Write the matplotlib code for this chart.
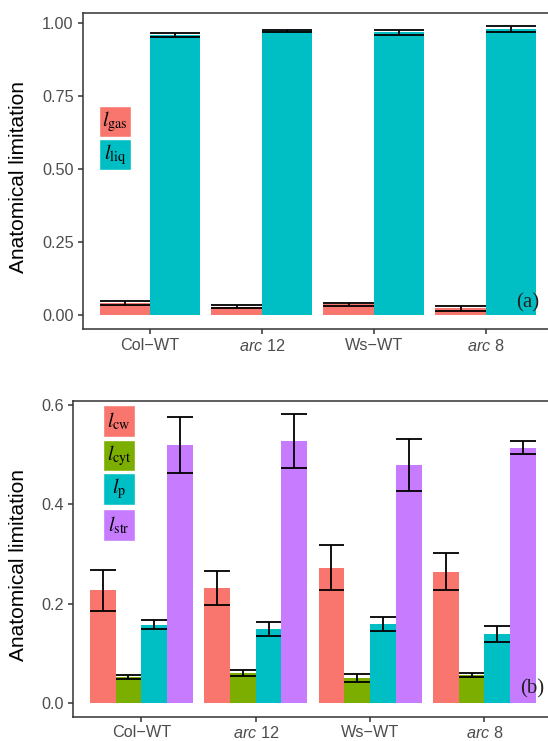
"""
Anatomical limitation of CO2 diffusion: gas vs liquid phase (a),
and the partitioning of the liquid phase (b).
"""

import numpy as np
import matplotlib
matplotlib.use("Agg")
import matplotlib.pyplot as plt
from matplotlib.patches import Rectangle

plt.rcParams['font.family'] = ['Liberation Sans', 'DejaVu Sans']
plt.rcParams['mathtext.fontset'] = 'custom'
plt.rcParams['mathtext.rm'] = 'Liberation Sans'
plt.rcParams['mathtext.it'] = 'Liberation Sans:italic'
plt.rcParams['mathtext.bf'] = 'Liberation Sans:bold'

genotypes = ['Col\u2212WT', r'$arc$ 12', 'Ws\u2212WT', r'$arc$ 8']

# panel (a)
gas_mean = [0.041, 0.029, 0.036, 0.023]
gas_err = [0.007, 0.0055, 0.0065, 0.008]
liq_mean = [0.961, 0.9735, 0.969, 0.980]
liq_err = [0.007, 0.0045, 0.008, 0.0095]
a_labels = [r'$l_{\mathrm{gas}}$', r'$l_{\mathrm{liq}}$']
a_colors = ['#F8766D', '#00BFC4']

# panel (b)
cw_mean = [0.227, 0.232, 0.273, 0.265]
cw_err = [0.0405, 0.034, 0.0445, 0.037]
cyt_mean = [0.053, 0.060, 0.051, 0.057]
cyt_err = [0.0035, 0.006, 0.0075, 0.004]
p_mean = [0.158, 0.1495, 0.159, 0.1395]
p_err = [0.009, 0.0145, 0.014, 0.0165]
str_mean = [0.5195, 0.5275, 0.4795, 0.5145]
str_err = [0.0565, 0.0545, 0.0515, 0.0125]
b_labels = [r'$l_{\mathrm{cw}}$', r'$l_{\mathrm{cyt}}$',
            r'$l_{\mathrm{p}}$', r'$l_{\mathrm{str}}$']
b_colors = ['#F8766D', '#7CAE00', '#00BFC4', '#C77CFF']

GREY = '#333333'


def draw_bars(ax, means, errs, colors, total_width=0.9):
    """Dodged bars with full-width error bar caps"""
    x = np.arange(1, len(genotypes) + 1)
    n = len(means)
    w = total_width / n
    offsets = (np.arange(n) - (n - 1) / 2) * w
    for m, c, off in zip(means, colors, offsets):
        ax.bar(x + off, m, w, color=c, linewidth=0, zorder=2)
    for m, e, off in zip(means, errs, offsets):
        m = np.array(m)
        e = np.array(e)
        xs = x + off
        ax.vlines(xs, m - e, m + e, color='black', lw=1.3, zorder=3)
        ax.hlines(m - e, xs - w / 2, xs + w / 2, color='black', lw=1.3, zorder=3)
        ax.hlines(m + e, xs - w / 2, xs + w / 2, color='black', lw=1.3, zorder=3)
    ax.set_xticks(x)
    ax.set_xticklabels(genotypes)
    ax.set_xlim(0.4, 4.6)


def style_axes(ax):
    for side in ['top', 'left', 'bottom']:
        ax.spines[side].set_color(GREY)
        ax.spines[side].set_linewidth(1.1)
    ax.spines['right'].set_visible(False)
    ax.tick_params(length=3.6, width=1.1, color=GREY, labelcolor='#4D4D4D',
                   labelsize=11.7, pad=3)
    ax.set_ylabel("Anatomical limitation", fontsize=15, color='black')


def draw_keys(ax, labels, colors, x0, x1, ys):
    """Legend keys with the label drawn inside each key"""
    for lab, c, (y0, y1) in zip(labels, colors, ys):
        ax.add_patch(Rectangle((x0, y0), x1 - x0, y1 - y0, transform=ax.transAxes,
                               facecolor=c, edgecolor='white', lw=1,
                               clip_on=False, zorder=4))
        ax.text((x0 + x1) / 2, (y0 + y1) / 2, lab, transform=ax.transAxes,
                ha='center', va='center', fontsize=14.5, color='black',
                math_fontfamily='stix', zorder=5)


fig = plt.figure(figsize=(5.48, 7.41), dpi=100)

# (a)
ax1 = fig.add_axes([0.151, 0.556, 0.858, 0.426])
draw_bars(ax1, [gas_mean, liq_mean], [gas_err, liq_err], a_colors)
ax1.set_ylim(-0.048, 1.034)
ax1.set_yticks([0, 0.25, 0.5, 0.75, 1.0])
ax1.set_yticklabels(['0.00', '0.25', '0.50', '0.75', '1.00'])
style_axes(ax1)
ax1.yaxis.set_label_coords(-0.116, 0.48)
draw_keys(ax1, a_labels, a_colors, 0.035, 0.102,
          [(0.608, 0.706), (0.504, 0.602)])
ax1.text(4.375, 0.04, '(a)', fontsize=15, family='Liberation Serif',
         color='#222222', ha='center', va='center', zorder=5)

# (b)
ax2 = fig.add_axes([0.1327, 0.0325, 0.8765, 0.4267])
draw_bars(ax2, [cw_mean, cyt_mean, p_mean, str_mean],
          [cw_err, cyt_err, p_err, str_err], b_colors)
ax2.set_ylim(-0.0275, 0.6086)
ax2.set_yticks([0, 0.2, 0.4, 0.6])
ax2.set_yticklabels(['0.0', '0.2', '0.4', '0.6'])
style_axes(ax2)
ax2.tick_params(axis='x', pad=2)
ax2.yaxis.set_label_coords(-0.093, 0.48)
draw_keys(ax2, b_labels, b_colors, 0.064, 0.130,
          [(0.886, 0.986), (0.779, 0.876), (0.671, 0.771), (0.557, 0.658)])
ax2.text(4.42, 0.028, '(b)', fontsize=15, family='Liberation Serif',
         color='#222222', ha='center', va='center', zorder=5)

for ax in (ax1, ax2):
    for lbl in ax.get_xticklabels():
        lbl.set_math_fontfamily('custom')

fig.savefig("out.png", dpi=100)
